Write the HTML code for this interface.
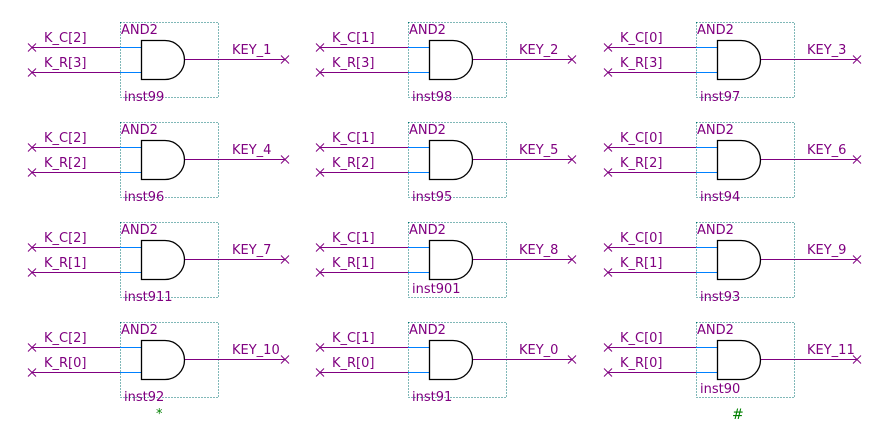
<!DOCTYPE html>
<html><head><meta charset="utf-8"><style>
html,body{margin:0;padding:0;background:#fff;}
svg text{font-family:"DejaVu Sans","Liberation Sans",sans-serif;font-size:13px;fill:#800080;}
</style></head><body>
<svg width="886" height="428" viewBox="0 0 886 428" xmlns="http://www.w3.org/2000/svg">
<defs>
<g id="blk">
<rect x="0.5" y="0.5" width="98" height="75" fill="none" stroke="#007070" stroke-width="1" stroke-dasharray="1,2"/>
<line x1="-88" y1="25.5" x2="0" y2="25.5" stroke="#800080"/>
<line x1="-88" y1="50.5" x2="0" y2="50.5" stroke="#800080"/>
<line x1="0" y1="25.5" x2="21" y2="25.5" stroke="#0080ff"/>
<line x1="0" y1="50.5" x2="21" y2="50.5" stroke="#0080ff"/>
<path d="M-92,21.5 L-84,29.5 M-92,29.5 L-84,21.5 M-92,46.5 L-84,54.5 M-92,54.5 L-84,46.5" stroke="#800080" fill="none"/>
<path d="M21.5,18.5 H45 A19.5,19.5 0 0 1 45,57.5 H21.5 Z" fill="#fff" stroke="#000" stroke-width="1.3"/>
</g>
</defs>
<g font-size="13">
<g transform="translate(120,22)"><use href="#blk"/><line x1="65" y1="37.5" x2="165" y2="37.5" stroke="#800080"/><path d="M161,33.5 L169,41.5 M161,41.5 L169,33.5" stroke="#800080"/><text x="-76" y="20">K_C[2]</text><text x="-76" y="45">K_R[3]</text><text x="1" y="12">AND2</text><text x="112" y="32">KEY_1</text><text x="4" y="79">inst99</text></g>
<g transform="translate(408,22)"><use href="#blk"/><line x1="65" y1="37.5" x2="164" y2="37.5" stroke="#800080"/><path d="M160,33.5 L168,41.5 M160,41.5 L168,33.5" stroke="#800080"/><text x="-76" y="20">K_C[1]</text><text x="-76" y="45">K_R[3]</text><text x="1" y="12">AND2</text><text x="111" y="32">KEY_2</text><text x="4" y="79">inst98</text></g>
<g transform="translate(696,22)"><use href="#blk"/><line x1="65" y1="37.5" x2="161" y2="37.5" stroke="#800080"/><path d="M157,33.5 L165,41.5 M157,41.5 L165,33.5" stroke="#800080"/><text x="-76" y="20">K_C[0]</text><text x="-76" y="45">K_R[3]</text><text x="1" y="12">AND2</text><text x="111" y="32">KEY_3</text><text x="4" y="79">inst97</text></g>

<g transform="translate(120,122)"><use href="#blk"/><line x1="65" y1="37.5" x2="165" y2="37.5" stroke="#800080"/><path d="M161,33.5 L169,41.5 M161,41.5 L169,33.5" stroke="#800080"/><text x="-76" y="20">K_C[2]</text><text x="-76" y="45">K_R[2]</text><text x="1" y="12">AND2</text><text x="112" y="32">KEY_4</text><text x="4" y="79">inst96</text></g>
<g transform="translate(408,122)"><use href="#blk"/><line x1="65" y1="37.5" x2="164" y2="37.5" stroke="#800080"/><path d="M160,33.5 L168,41.5 M160,41.5 L168,33.5" stroke="#800080"/><text x="-76" y="20">K_C[1]</text><text x="-76" y="45">K_R[2]</text><text x="1" y="12">AND2</text><text x="111" y="32">KEY_5</text><text x="4" y="79">inst95</text></g>
<g transform="translate(696,122)"><use href="#blk"/><line x1="65" y1="37.5" x2="161" y2="37.5" stroke="#800080"/><path d="M157,33.5 L165,41.5 M157,41.5 L165,33.5" stroke="#800080"/><text x="-76" y="20">K_C[0]</text><text x="-76" y="45">K_R[2]</text><text x="1" y="12">AND2</text><text x="111" y="32">KEY_6</text><text x="4" y="79">inst94</text></g>

<g transform="translate(120,222)"><use href="#blk"/><line x1="65" y1="37.5" x2="165" y2="37.5" stroke="#800080"/><path d="M161,33.5 L169,41.5 M161,41.5 L169,33.5" stroke="#800080"/><text x="-76" y="20">K_C[2]</text><text x="-76" y="45">K_R[1]</text><text x="1" y="12">AND2</text><text x="112" y="32">KEY_7</text><text x="4" y="79">inst911</text></g>
<g transform="translate(408,222)"><use href="#blk"/><line x1="65" y1="37.5" x2="164" y2="37.5" stroke="#800080"/><path d="M160,33.5 L168,41.5 M160,41.5 L168,33.5" stroke="#800080"/><text x="-76" y="20">K_C[1]</text><text x="-76" y="45">K_R[1]</text><text x="1" y="12">AND2</text><text x="111" y="32">KEY_8</text><text x="4" y="71">inst901</text></g>
<g transform="translate(696,222)"><use href="#blk"/><line x1="65" y1="37.5" x2="161" y2="37.5" stroke="#800080"/><path d="M157,33.5 L165,41.5 M157,41.5 L165,33.5" stroke="#800080"/><text x="-76" y="20">K_C[0]</text><text x="-76" y="45">K_R[1]</text><text x="1" y="12">AND2</text><text x="111" y="32">KEY_9</text><text x="4" y="79">inst93</text></g>

<g transform="translate(120,322)"><use href="#blk"/><line x1="65" y1="37.5" x2="165" y2="37.5" stroke="#800080"/><path d="M161,33.5 L169,41.5 M161,41.5 L169,33.5" stroke="#800080"/><text x="-76" y="20">K_C[2]</text><text x="-76" y="45">K_R[0]</text><text x="1" y="12">AND2</text><text x="112" y="32">KEY_10</text><text x="4" y="79">inst92</text></g>
<g transform="translate(408,322)"><use href="#blk"/><line x1="65" y1="37.5" x2="164" y2="37.5" stroke="#800080"/><path d="M160,33.5 L168,41.5 M160,41.5 L168,33.5" stroke="#800080"/><text x="-76" y="20">K_C[1]</text><text x="-76" y="45">K_R[0]</text><text x="1" y="12">AND2</text><text x="111" y="32">KEY_0</text><text x="4" y="79">inst91</text></g>
<g transform="translate(696,322)"><use href="#blk"/><line x1="65" y1="37.5" x2="161" y2="37.5" stroke="#800080"/><path d="M157,33.5 L165,41.5 M157,41.5 L165,33.5" stroke="#800080"/><text x="-76" y="20">K_C[0]</text><text x="-76" y="45">K_R[0]</text><text x="1" y="12">AND2</text><text x="111" y="32">KEY_11</text><text x="4" y="71">inst90</text></g>
</g>
<text x="156" y="418" style="fill:#008000;font-size:13px">*</text>
<text x="732" y="419" style="fill:#008000;font-size:14px">#</text>
</svg>
</body></html>
